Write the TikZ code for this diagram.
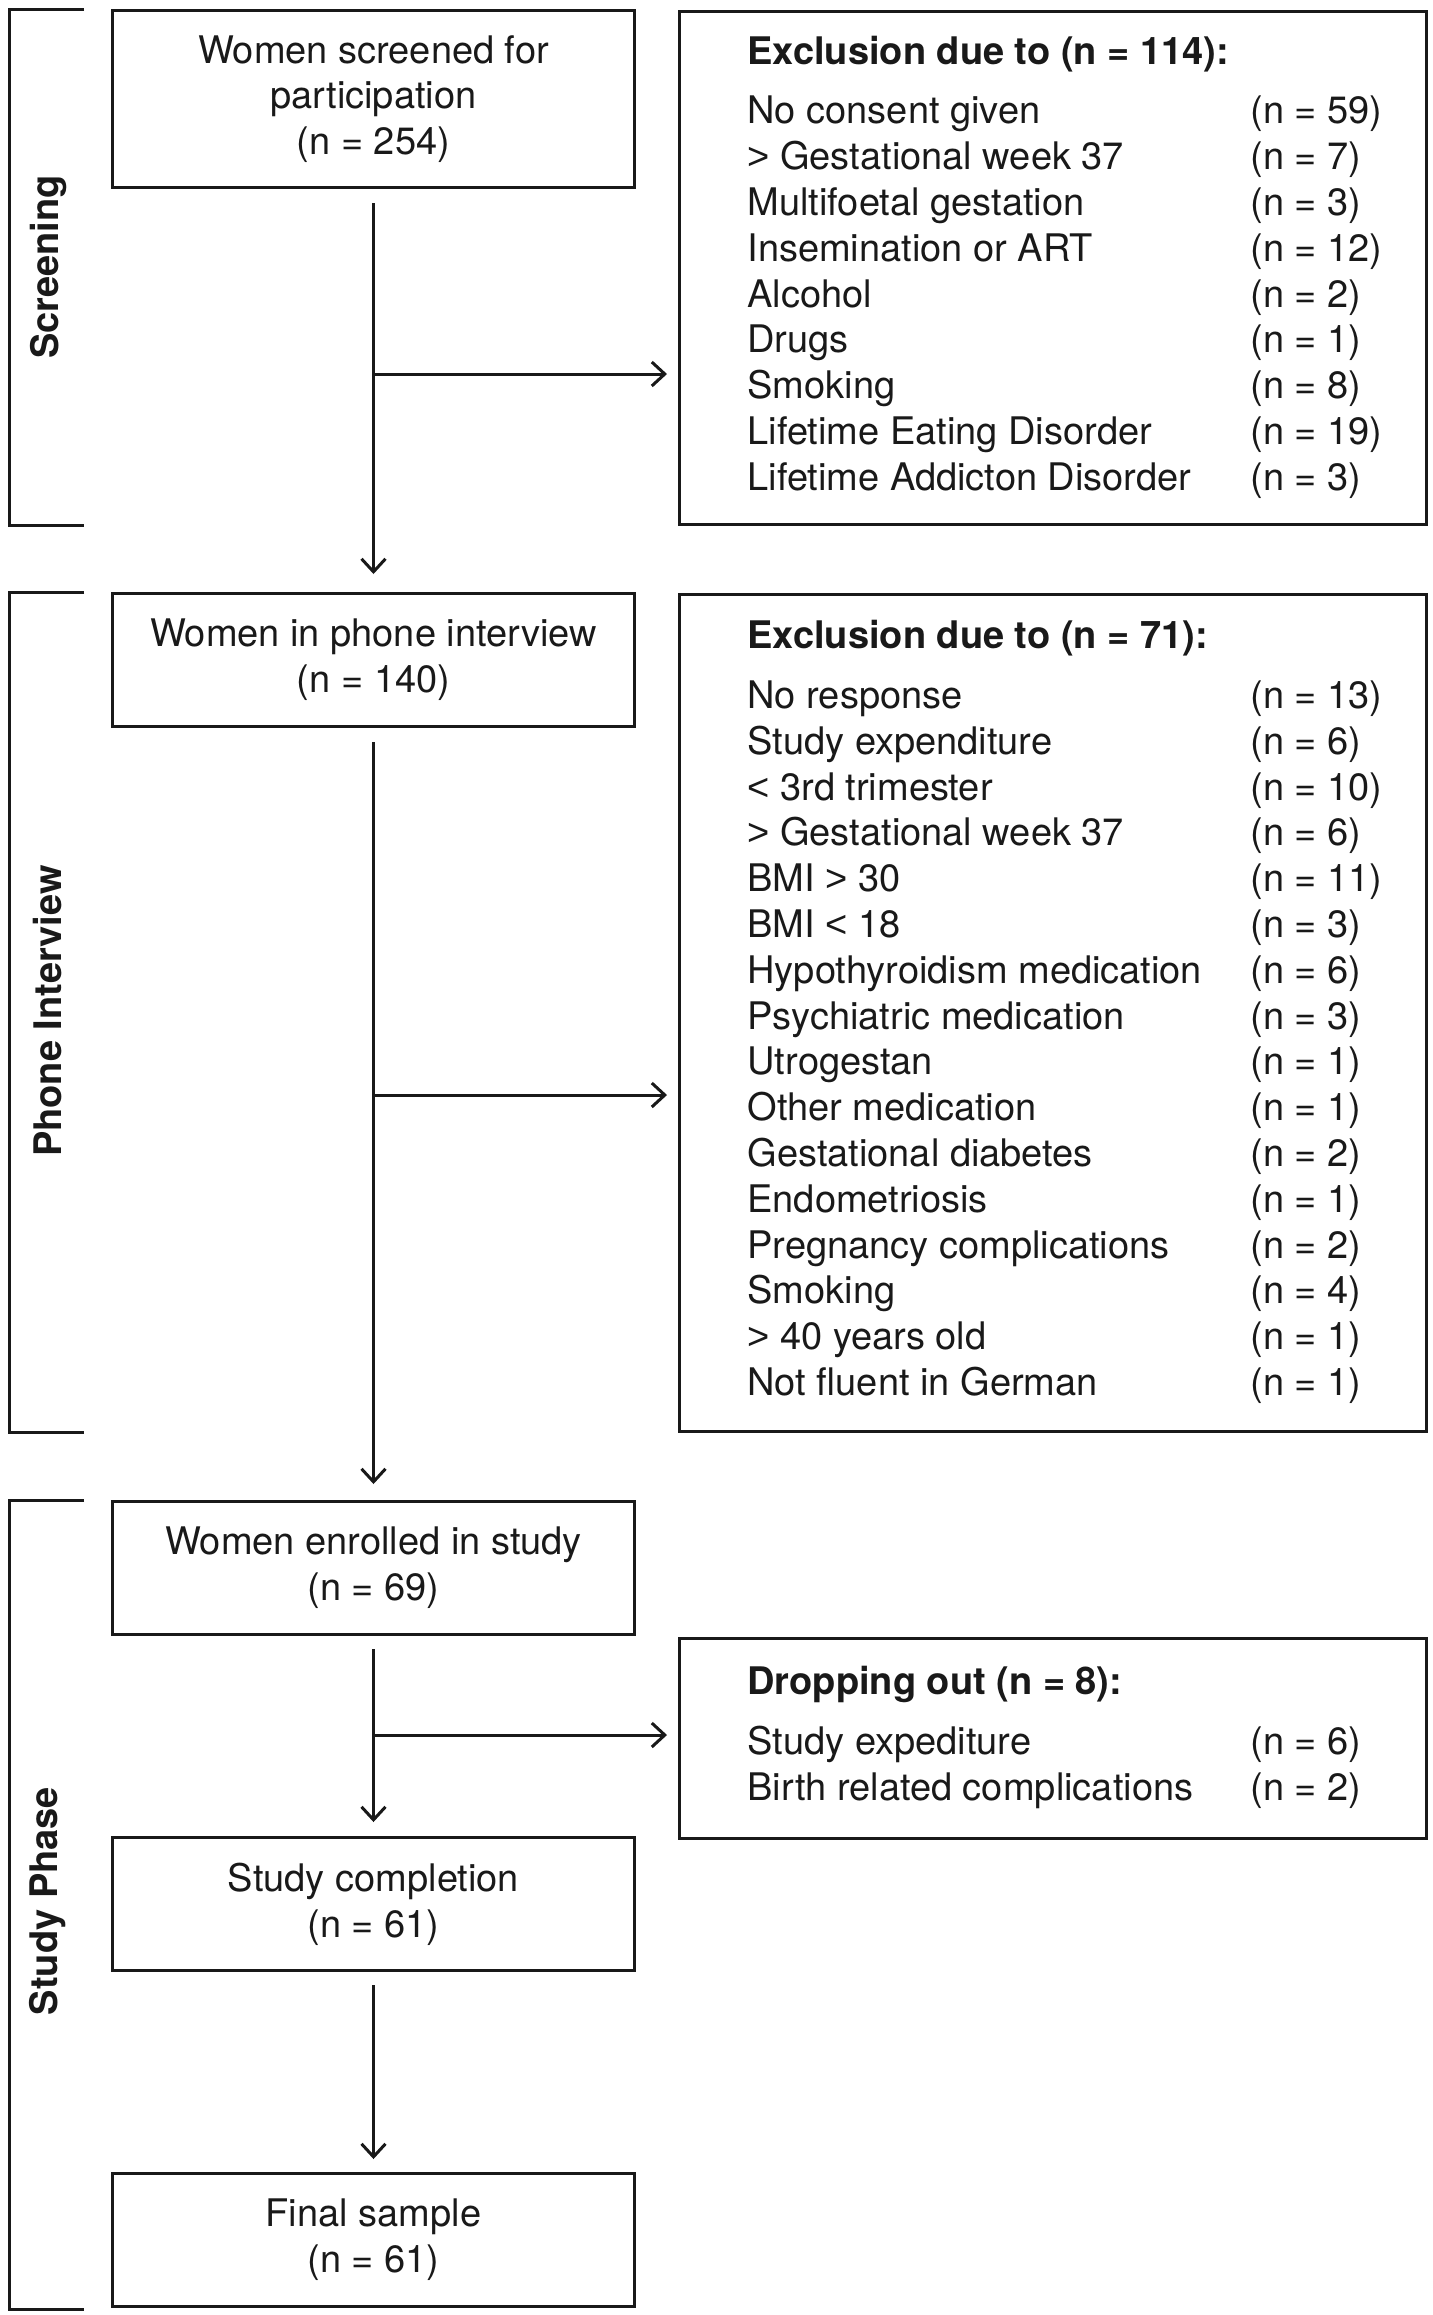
\documentclass[tikz,border=0pt]{standalone}
\usepackage{fontspec}
\setmainfont{TeX Gyre Heros}
\newfontfamily\signfont{Liberation Sans}
\newcommand{\gtsign}{{\signfont >}}
\newcommand{\ltsign}{{\signfont <}}
\usetikzlibrary{arrows.meta,positioning}

\begin{document}
\begin{tikzpicture}[x=0.5pt, y=-0.5pt, line width=1.5pt, color=black!90,
    >={Straight Barb[length=6.5pt,width=12pt]},
    every node/.style={font=\fontsize{19}{22.9}\selectfont},
    stagebox/.style={draw, rectangle, minimum width=261pt, align=center, inner sep=0pt},
    listbox/.style={draw, rectangle, minimum width=373.5pt, anchor=north west, inner sep=0pt},
    listtext/.style={anchor=west, inner sep=0pt, align=left},
    phaselabel/.style={rotate=90, font=\fontsize{19}{22.9}\selectfont\bfseries}]

    \useasboundingbox (0,0) rectangle (1432,2315);

    % phase brackets
    \draw (84,9) -- (9,9) -- (9,525) -- (84,525);
    \draw (84,592) -- (9,592) -- (9,1432) -- (84,1432);
    \draw (84,1500) -- (9,1500) -- (9,2309) -- (84,2309);
    \node (screenlbl) [phaselabel] at (48,267) {Screening};
    \node (phonelbl) [phaselabel] at (48,1011) {Phone Interview};
    \node (studylbl) [phaselabel] at (48,1901) {Study Phase};

    % main flow
    \node (screen) [stagebox, minimum height=88.5pt] at (373.5,99) {Women screened for\\participation\\(n = 254)};
    \node (phone) [stagebox, minimum height=66.5pt] at (373.5,660) {Women in phone interview\\(n = 140)};
    \node (enrol) [stagebox, minimum height=66.5pt] at (373.5,1568) {Women enrolled in study\\(n = 69)};
    \node (complete) [stagebox, minimum height=66.5pt] at (373.5,1904) {Study completion\\(n = 61)};
    \node (final) [stagebox, minimum height=66.5pt] at (373.5,2240) {Final sample\\(n = 61)};

    % exclusions
    \node (excl1) [listbox, minimum height=256.5pt] at (678,10) {};
    \node (excl1txt) [listtext] at ([xshift=34pt]excl1.west) {%
      \begin{tabular}{@{}p{251.5pt}@{}l@{}}
        \textbf{Exclusion due to (n = 114):} & \\[7pt]
        No consent given & (n = 59)\\
        \gtsign{} Gestational week 37 & (n = 7)\\
        Multifoetal gestation & (n = 3)\\
        Insemination or ART & (n = 12)\\
        Alcohol & (n = 2)\\
        Drugs & (n = 1)\\
        Smoking & (n = 8)\\
        Lifetime Eating Disorder & (n = 19)\\
        Lifetime Addicton Disorder & (n = 3)
      \end{tabular}};

    \node (excl2) [listbox, minimum height=418.5pt] at (678,593) {};
    \node (excl2txt) [listtext] at ([xshift=34pt]excl2.west) {%
      \begin{tabular}{@{}p{251.5pt}@{}l@{}}
        \textbf{Exclusion due to (n = 71):} & \\[7pt]
        No response & (n = 13)\\
        Study expenditure & (n = 6)\\
        \ltsign{} 3rd trimester & (n = 10)\\
        \gtsign{} Gestational week 37 & (n = 6)\\
        BMI \gtsign{} 30 & (n = 11)\\
        BMI \ltsign{} 18 & (n = 3)\\
        Hypothyroidism medication & (n = 6)\\
        Psychiatric medication & (n = 3)\\
        Utrogestan & (n = 1)\\
        Other medication & (n = 1)\\
        Gestational diabetes & (n = 2)\\
        Endometriosis & (n = 1)\\
        Pregnancy complications & (n = 2)\\
        Smoking & (n = 4)\\
        \gtsign{} 40 years old & (n = 1)\\
        Not fluent in German & (n = 1)
      \end{tabular}};

    \node (drop) [listbox, minimum height=100pt] at (678,1637) {};
    \node (droptxt) [listtext] at ([xshift=34pt]drop.west) {%
      \begin{tabular}{@{}p{251.5pt}@{}l@{}}
        \textbf{Dropping out (n = 8):} & \\[7pt]
        Study expediture & (n = 6)\\
        Birth related complications & (n = 2)
      \end{tabular}};

    % arrows
    \draw[->, shorten <=7pt, shorten >=9pt] (screen) -- (phone);
    \draw[->, shorten <=7pt, shorten >=8pt] (phone) -- (enrol);
    \draw[->, shorten <=6.5pt, shorten >=7pt] (enrol) -- (complete);
    \draw[->, shorten <=6.5pt, shorten >=6.5pt] (complete) -- (final);

    \coordinate (split1) at (373.5,374);
    \coordinate (split2) at (373.5,1095);
    \coordinate (split3) at (373.5,1735);
    \draw[->, shorten >=5.5pt] (split1) -- (split1 -| excl1.west);
    \draw[->, shorten >=5.5pt] (split2) -- (split2 -| excl2.west);
    \draw[->, shorten >=5.5pt] (split3) -- (split3 -| drop.west);
\end{tikzpicture}
\end{document}
